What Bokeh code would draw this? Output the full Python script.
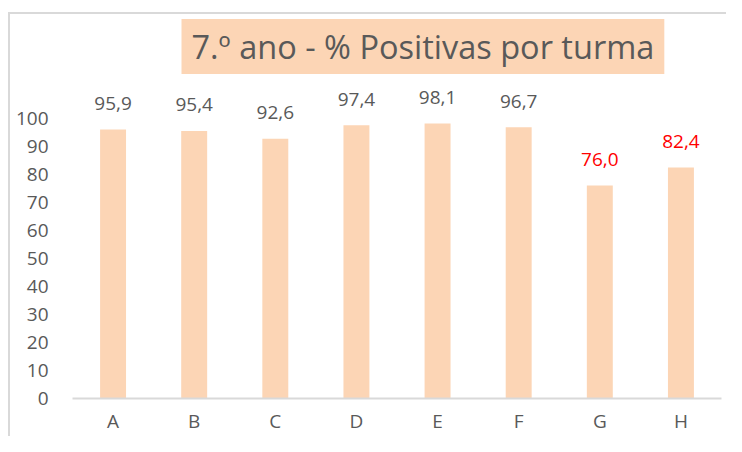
from bokeh.plotting import figure
from bokeh.models import ColumnDataSource, FactorRange, Range1d, FixedTicker, Title
from bokeh.core.properties import value
from bokeh.embed import file_html
from bokeh.resources import INLINE

turmas = ["A", "B", "C", "D", "E", "F", "G", "H"]
positivas = [95.9, 95.4, 92.6, 97.4, 98.1, 96.7, 76.0, 82.4]
label_colors = ["#595959"] * 6 + ["#FF0000", "#FF0000"]
y_ticks = [0, 10, 20, 30, 40, 50, 60, 70, 80, 90, 100]
title_text = "7.º ano - % Positivas por turma"

FONT = "Open Sans"
GREY = "#595959"
PEACH = "#FCD5B5"
EDGE = "#D9D9D9"

W, H = 726, 436
ML, MR, MT, MB = 72, 5, 80, 35

src = ColumnDataSource(dict(
    x=turmas,
    top=positivas,
    lab=[f"{v:.1f}".replace(".", ",") for v in positivas],
    col=label_colors,
))

p = figure(width=W, height=H, output_backend="svg", toolbar_location=None,
           x_range=FactorRange(factors=turmas, range_padding=0),
           y_range=Range1d(0, 113.4),
           min_border_left=ML, min_border_right=MR, min_border_top=MT, min_border_bottom=MB)
p.outline_line_color = None
p.background_fill_color = "white"
p.border_fill_color = None
p.xgrid.visible = False
p.ygrid.visible = False

# chart-area border: left and top edges, drawn behind the transparent border area
p.styles = {
    "background-color": "white",
    "background-image": f"linear-gradient({EDGE},{EDGE}), linear-gradient({EDGE},{EDGE})",
    "background-position": "8px 12px, 8px 12px",
    "background-size": "2px 100%, 100% 2px",
    "background-repeat": "no-repeat, no-repeat",
}

p.vbar(x="x", top="top", width=0.32, source=src, fill_color=PEACH, line_color=None)
p.text(x="x", y="top", text="lab", source=src, text_color="col",
       text_font=value(FONT), text_font_size="19px",
       text_align="center", text_baseline="middle", y_offset=-26)

yax = p.yaxis[0]
yax.ticker = FixedTicker(ticks=y_ticks)
yax.axis_line_color = None
yax.major_tick_line_color = None
yax.minor_tick_line_color = None
yax.major_tick_out = 0
yax.major_label_standoff = 24
yax.major_label_text_font = FONT
yax.major_label_text_font_size = "19px"
yax.major_label_text_color = GREY

xax = p.xaxis[0]
xax.axis_line_color = EDGE
xax.axis_line_width = 2
xax.major_tick_line_color = None
xax.minor_tick_line_color = None
xax.major_tick_out = 0
xax.major_label_standoff = 9
xax.major_label_text_font = FONT
xax.major_label_text_font_size = "19px"
xax.major_label_text_color = GREY

p.title = Title(text=title_text, align="left", offset=109, standoff=13,
                text_font=FONT, text_font_size="32.5px", text_font_style="normal",
                text_color=GREY, background_fill_color=PEACH,
                padding=dict(left=10, right=10, top=5, bottom=5))

open("out.html", "w").write(file_html(p, INLINE))
